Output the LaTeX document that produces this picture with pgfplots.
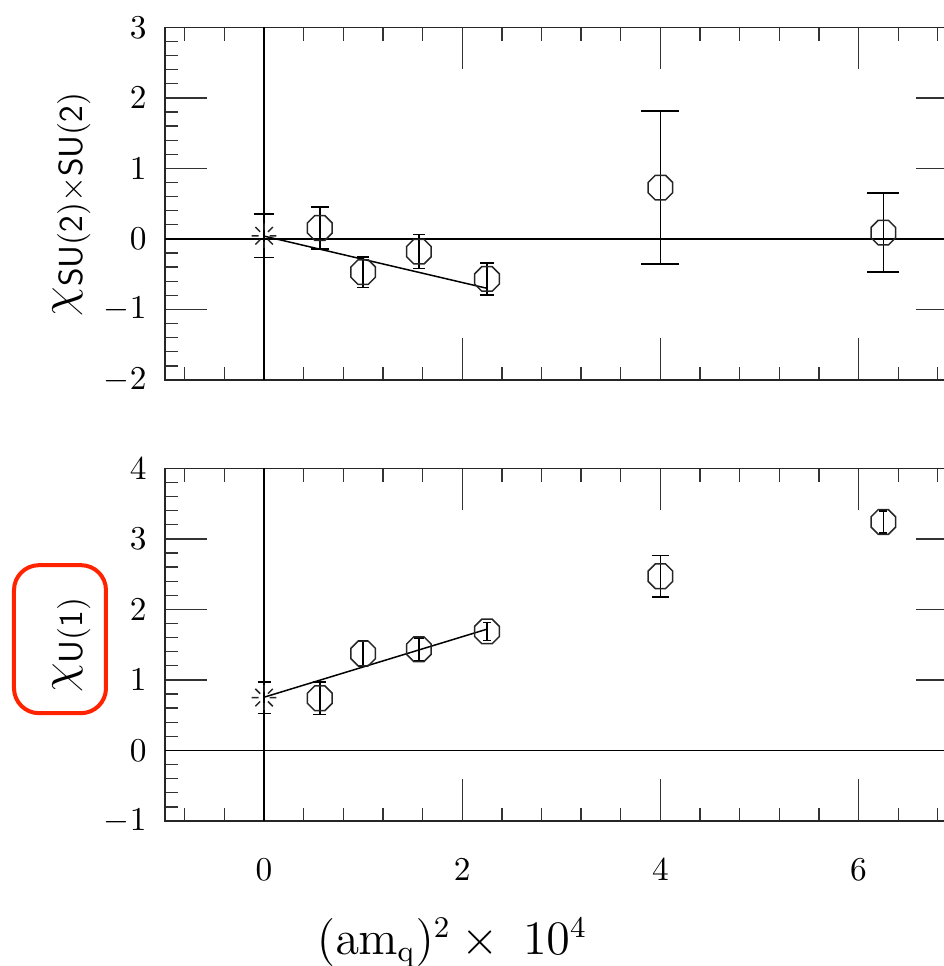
\documentclass[border=0pt]{standalone}
\usepackage{pgfplots}
\pgfplotsset{compat=1.18}
\definecolor{boxred}{RGB}{255,35,0}

% octagon with flat top and bottom
\pgfdeclareplotmark{octagon}{%
  \pgfpathmoveto{\pgfpointpolar{22.5}{\pgfplotmarksize}}%
  \pgfpathlineto{\pgfpointpolar{67.5}{\pgfplotmarksize}}%
  \pgfpathlineto{\pgfpointpolar{112.5}{\pgfplotmarksize}}%
  \pgfpathlineto{\pgfpointpolar{157.5}{\pgfplotmarksize}}%
  \pgfpathlineto{\pgfpointpolar{202.5}{\pgfplotmarksize}}%
  \pgfpathlineto{\pgfpointpolar{247.5}{\pgfplotmarksize}}%
  \pgfpathlineto{\pgfpointpolar{292.5}{\pgfplotmarksize}}%
  \pgfpathlineto{\pgfpointpolar{337.5}{\pgfplotmarksize}}%
  \pgfpathclose
  \pgfusepathqstroke}
% burst: eight rays with a hole in the middle
\pgfdeclareplotmark{burst}{%
  \pgfpathmoveto{\pgfpointpolar{0}{0.45\pgfplotmarksize}}\pgfpathlineto{\pgfpointpolar{0}{\pgfplotmarksize}}%
  \pgfpathmoveto{\pgfpointpolar{45}{0.45\pgfplotmarksize}}\pgfpathlineto{\pgfpointpolar{45}{\pgfplotmarksize}}%
  \pgfpathmoveto{\pgfpointpolar{90}{0.45\pgfplotmarksize}}\pgfpathlineto{\pgfpointpolar{90}{\pgfplotmarksize}}%
  \pgfpathmoveto{\pgfpointpolar{135}{0.45\pgfplotmarksize}}\pgfpathlineto{\pgfpointpolar{135}{\pgfplotmarksize}}%
  \pgfpathmoveto{\pgfpointpolar{180}{0.45\pgfplotmarksize}}\pgfpathlineto{\pgfpointpolar{180}{\pgfplotmarksize}}%
  \pgfpathmoveto{\pgfpointpolar{225}{0.45\pgfplotmarksize}}\pgfpathlineto{\pgfpointpolar{225}{\pgfplotmarksize}}%
  \pgfpathmoveto{\pgfpointpolar{270}{0.45\pgfplotmarksize}}\pgfpathlineto{\pgfpointpolar{270}{\pgfplotmarksize}}%
  \pgfpathmoveto{\pgfpointpolar{315}{0.45\pgfplotmarksize}}\pgfpathlineto{\pgfpointpolar{315}{\pgfplotmarksize}}%
  \pgfusepathqstroke}

\pgfplotsset{
  panel/.style={
    scale only axis, width=237.8pt, height=105.8pt,
    xmin=-1, xmax=7, xtick={0,2,4,6}, minor xtick={-0.8,-0.4,...,6.8},
    tick pos=both, major tick length=12.6pt, minor tick length=4pt,
    tick style={black!80, line width=0.4pt},
    axis line style={black!85, line width=0.45pt},
    yticklabel style={xshift=-2pt},
    every axis y label/.style={at={(axis description cs:0,0.5)}, xshift=-28pt,
      rotate=90, anchor=center, font=\Large},
    clip=false,
  },
  pt/.style={only marks, mark=octagon, mark size=4pt,
    mark options={black!85, line width=0.45pt},
    /pgfplots/error bars/y dir=both, /pgfplots/error bars/y explicit,
    /pgfplots/error bars/error bar style={black, line width=0.45pt},
    /pgfplots/error bars/error mark options={rotate=90, mark size=#1, black, line width=0.45pt}},
  st/.style={pt=#1, mark=burst, mark size=3.7pt},
  ln/.style={black, line width=0.45pt, no marks},
}

\begin{document}
\begin{tikzpicture}
% page = this box; the axes are overlays, so their right end runs off the page
\path (-49.5pt,-281.6pt) rectangle (233.7pt,8.2pt);

% SU(2)xSU(2) panel
\begin{axis}[overlay, panel, at={(0,0)}, anchor=north west,
  ymin=-2, ymax=3, ytick={-2,-1,...,3}, minor ytick={-1.8,-1.6,...,2.8},
  xticklabels={},
  ylabel={$\chi_{\mathsf{SU(2)\times SU(2)}}$}]
\addplot[ln] coordinates {(-1,0) (7,0)};
\addplot[ln] coordinates {(0,-2) (0,3)};
\addplot[ln] coordinates {(0,0.04) (2.25,-0.70)};
\addplot[st=3pt]   coordinates {(0,0.045) +- (0,0.31)};
\addplot[pt=2.7pt] coordinates {(0.5625,0.155) +- (0,0.30)};
\addplot[pt=1.8pt] coordinates {(1.0,-0.47) +- (0,0.215)};
\addplot[pt=1.8pt] coordinates {(1.5625,-0.18) +- (0,0.24)};
\addplot[pt=2.1pt] coordinates {(2.25,-0.567) +- (0,0.227)};
\addplot[pt=5.7pt] coordinates {(4.0,0.728) +- (0,1.083)};
\addplot[pt=4.8pt] coordinates {(6.25,0.09) +- (0,0.558)};
\end{axis}

% U(1) panel
\begin{axis}[overlay, panel, name=bot, at={(0,-132.3pt)}, anchor=north west,
  ymin=-1, ymax=4, ytick={-1,0,...,4}, minor ytick={-0.8,-0.6,...,3.8},
  xticklabel style={yshift=-8pt},
  xlabel={$(\mathrm{am}_{\mathrm{q}})^2\times\;10^4$},
  xlabel style={at={(axis description cs:0.362,0)}, anchor=center, yshift=-36.5pt,
    font=\fontsize{13.5}{16}\selectfont},
  ylabel={$\chi_{\mathsf{U(1)}}$}]
\addplot[ln] coordinates {(-1,0) (7,0)};
\addplot[ln] coordinates {(0,-1) (0,4)};
\addplot[ln] coordinates {(0,0.755) (2.25,1.72)};
\addplot[st=1.95pt] coordinates {(0,0.75) +- (0,0.224)};
\addplot[pt=1.95pt] coordinates {(0.5625,0.74) +- (0,0.233)};
\addplot[pt=1.5pt]  coordinates {(1.0,1.375) +- (0,0.177)};
\addplot[pt=1.5pt]  coordinates {(1.5625,1.436) +- (0,0.16)};
\addplot[pt=1.2pt]  coordinates {(2.25,1.688) +- (0,0.128)};
\addplot[pt=2.65pt] coordinates {(4.0,2.47) +- (0,0.296)};
\addplot[pt=1.2pt]  coordinates {(6.25,3.24) +- (0,0.154)};
\end{axis}

% red highlight round the lower axis label
\node[draw=boxred, line width=1.2pt, rounded corners=7.5pt, minimum width=27.6pt,
  minimum height=44.4pt, inner sep=0pt] at ([shift={(-31.5pt,1.65pt)}]bot.west) {};
\end{tikzpicture}
\end{document}
